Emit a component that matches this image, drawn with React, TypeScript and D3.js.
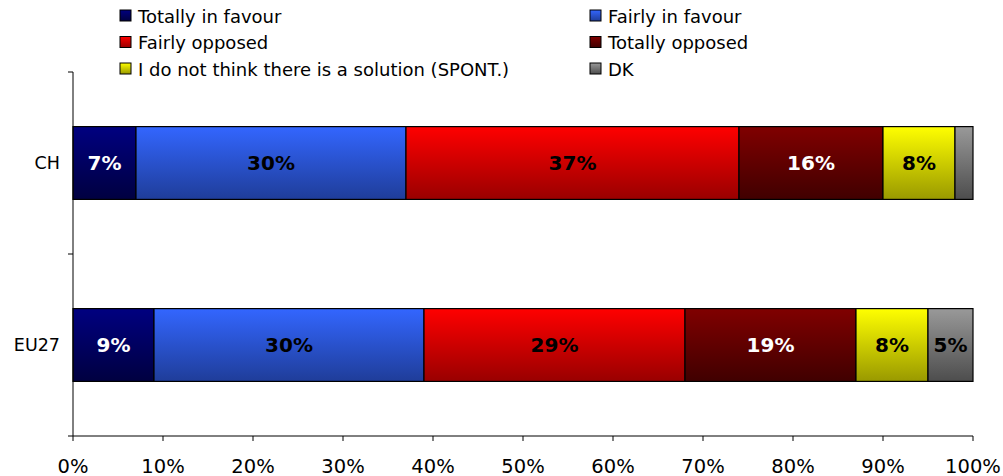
import React from "react";
import * as d3 from "d3";

const categories = ["CH", "EU27"];
const seriesNames = [
  "Totally in favour",
  "Fairly in favour",
  "Fairly opposed",
  "Totally opposed",
  "I do not think there is a solution (SPONT.)",
  "DK",
];
const valuesCH = [7, 30, 37, 16, 8, 2];
const valuesEU27 = [9, 30, 29, 19, 8, 5];
const xTicks = [0, 10, 20, 30, 40, 50, 60, 70, 80, 90, 100];

const colorsTop = ["#000080", "#3366FF", "#FF0000", "#800000", "#FFFF00", "#999999"];
const colorsBottom = ["#000040", "#1F3D99", "#990000", "#400000", "#999900", "#4D4D4D"];
const labelColors = ["#FFFFFF", "#000000", "#000000", "#FFFFFF", "#000000", "#000000"];

const W = 1003;
const H = 476;
const left = 73;
const right = 973;
const top = 72;
const bottom = 436;
const font = "'DejaVu Sans', Verdana, sans-serif";

export default function App() {
  const data = [valuesCH, valuesEU27];
  const x = d3.scaleLinear().domain([0, 100]).range([left, right]);
  const y = d3.scaleBand().domain(categories).range([top, bottom]).paddingInner(0.6).paddingOuter(0.3);
  const stack = data.map((vals) => {
    let acc = 0;
    return vals.map((v) => {
      const s = acc;
      acc += v;
      return [s, acc];
    });
  });
  const legendPos = seriesNames.map((_, i) => ({
    x: i % 2 === 0 ? 120 : 590,
    y: 16 + Math.floor(i / 2) * 26.5,
  }));
  return (
    <svg width={W} height={H} style={{ position: "absolute", left: 0, top: 0, background: "#fff" }} fontFamily={font}>
      <defs>
        {colorsTop.map((c, i) => (
          <linearGradient key={i} id={`g${i}`} x1="0" y1="0" x2="0" y2="1">
            <stop offset="0%" stopColor={c} />
            <stop offset="100%" stopColor={colorsBottom[i]} />
          </linearGradient>
        ))}
      </defs>
      {/* legend */}
      {seriesNames.map((n, i) => (
        <g key={n}>
          <rect x={legendPos[i].x} y={legendPos[i].y - 6} width={11} height={11} fill={`url(#g${i})`} stroke="#000" strokeWidth={1} />
          <text x={legendPos[i].x + 18} y={legendPos[i].y} dominantBaseline="central" fontSize={18} fill="#000">
            {n}
          </text>
        </g>
      ))}
      {/* bars */}
      {categories.map((c, ci) => (
        <g key={c}>
          {stack[ci].map(([s, e], si) => {
            const x0 = x(s);
            const x1 = x(e);
            const yy = y(c)!;
            const v = data[ci][si];
            return (
              <g key={si}>
                <rect x={x0} y={yy} width={x1 - x0} height={y.bandwidth()} fill={`url(#g${si})`} stroke="#000" strokeWidth={1.2} />
                {v >= 3 && (
                  <text
                    x={(x0 + x1) / 2}
                    y={yy + y.bandwidth() / 2}
                    textAnchor="middle"
                    dominantBaseline="central"
                    fontWeight="bold"
                    fontSize={20}
                    fill={labelColors[si]}
                  >
                    {v}%
                  </text>
                )}
              </g>
            );
          })}
          <text x={60} y={y(c)! + y.bandwidth() / 2} textAnchor="end" dominantBaseline="central" fontSize={17.5} fill="#000">
            {c}
          </text>
        </g>
      ))}
      {/* y axis */}
      <line x1={left} x2={left} y1={top} y2={bottom} stroke="#000" strokeWidth={1} />
      {[top, (top + bottom) / 2, bottom].map((t, i) => (
        <line key={i} x1={left - 5} x2={left} y1={t} y2={t} stroke="#000" strokeWidth={1} />
      ))}
      {/* x axis */}
      <line x1={left} x2={right} y1={bottom} y2={bottom} stroke="#000" strokeWidth={1} />
      {xTicks.map((t) => (
        <g key={t}>
          <line x1={x(t)} x2={x(t)} y1={bottom} y2={bottom + 5} stroke="#000" strokeWidth={1} />
          <text x={x(t)} y={466} textAnchor="middle" dominantBaseline="central" fontSize={19.5} fill="#000">
            {t}%
          </text>
        </g>
      ))}
    </svg>
  );
}
